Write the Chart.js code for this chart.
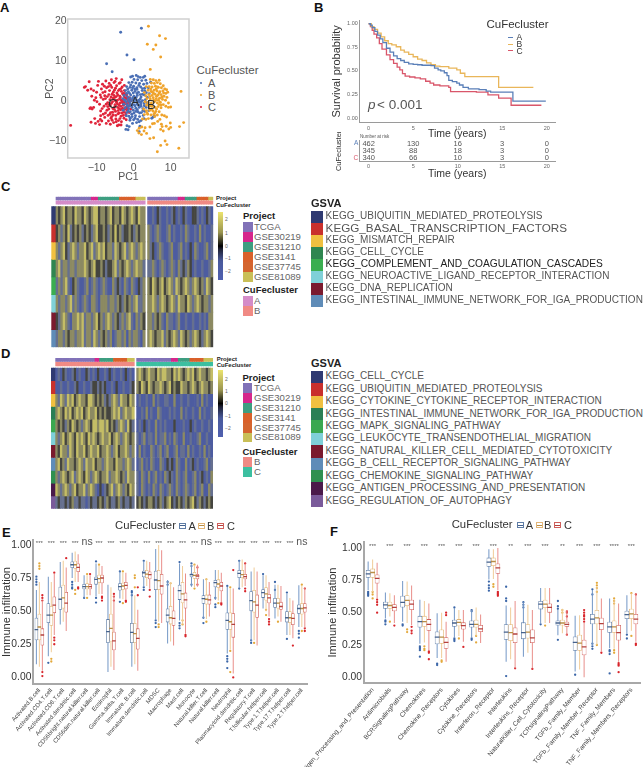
<!DOCTYPE html>
<html>
<head>
<meta charset="utf-8">
<title>CuFecluster figure</title>
<script src="https://cdn.jsdelivr.net/npm/chart.js"></script>
<style>
  html, body { margin: 0; padding: 0; background: #fff; }
  #page { position: relative; width: 644px; height: 767px; overflow: hidden; font-family: "Liberation Sans", Arial, sans-serif; }
  canvas { position: absolute; }
  .txt { position: absolute; white-space: pre; line-height: 1; }
  .sw { position: absolute; }
  .heat { filter: blur(0.45px); }
</style>
</head>
<body>
<div id="page"></div>
<script>
// ---------- panel A: PCA points
const pcaC = [[-17,-6.1],[-13,3.6],[-13.3,3.4],[-12,4.8],[-11.5,3],[-11.3,1.2],[-11.6,-1.7],[-11.8,-1.9],[-11.2,-2],[-10.8,-1.6],[-11.5,-5.3],[-10.5,-4.4],[-10.3,-5.6],[-9.6,-5.1],[-9.2,-5.9],[-9,-4.6],[-10.2,.8],[-10,2.2],[-9.7,3.9],[-9.5,4.9],[-9,1.5],[-9.2,-.8],[-8.9,-2.5],[-8.7,3],[-8.4,4.2],[-8.2,.4],[-8,-1.3],[-8.2,-3.3],[-7.8,-4.1],[-7.7,2.3],[-7.5,5],[-7.3,3.3],[-7.1,1.1],[-7,-.4],[-7.2,-2.3],[-6.9,-3.6],[-6.8,-5],[-6.6,4.4],[-6.5,2.6],[-6.4,.3],[-6.3,-1.2],[-6.2,-2.9],[-6.1,-4.3],[-6,5.3],[-5.9,3.4],[-5.8,1.7],[-5.7,-.2],[-5.6,-1.9],[-5.5,-3.5],[-5.4,-5.4],[-5.3,4.6],[-5.2,2.7],[-5.1,.9],[-5,-.9],[-4.9,-2.6],[-4.8,-4.5],[-4.7,5.6],[-4.6,3.8],[-4.5,2],[-4.4,.2],[-4.3,-1.6],[-4.2,-3.2],[-4.1,-4.9],[-4,-6],[-3.9,4.4],[-3.8,2.9],[-3.7,1.2],[-3.6,-.5],[-3.5,-2.2],[-3.4,-3.8],[-3.3,-5.2],[-3.2,5.3],[-3.1,3.5],[-3,1.8],[-2.9,.4],[-2.8,-1.1],[-2.7,-2.8],[-2.6,-4.3],[-2.5,2.6],[-2.4,.9],[-2.3,-.3],[-2.2,-1.8],[-2.1,-3.4],[-2,-4.7],[-1.9,1.5],[-1.8,-.8],[-1.7,-2.3],[-1.5,.3],[-1.4,-1.3],[-1.2,-2.9],[-7.6,.6],[-8.5,-1.9],[-6.7,-2],[-6.1,1],[-5.5,2.2],[-5.2,-2.1],[-4.7,1.1],[-4.4,-.7],[-4.2,-2.4],[-3.8,.5],[-3.5,-1.3],[-3.2,-3],[-3.3,2.4],[-2.9,-.5],[-2.6,1.3],[-2.4,-2.1],[-2.1,.5],[-1.9,-1.5],[-1.6,-.1],[-1.1,.8],[-1,-.9],[-.8,-2],[-.7,.1],[-4,-1],[-3.6,.9],[-3.1,-.2],[-2.8,.1],[-2.5,-.8],[-5,.1],[-4.6,-.3],[-3.9,-1.9],[-6,-.6],[-5.5,.7],[-7,-1.4],[-7.8,1.3],[-9.9,-.2],[-10.6,.2],[-8.6,-5],[-7.4,-5.6],[-6.3,-5.8],[-4.4,-6.2],[-3.4,-6],[-10.8,2.6],[-12.4,2.7],[-8.8,.9],[-8.3,2.1],[-7.4,-.8],[-7.6,-3],[-6.6,-.9],[-6.7,1.6],[-6.2,3.9],[-5.7,-2.8],[-5.9,-3.9],[-5.1,-1.4],[-5.3,1.4],[-4.9,3.2],[-4.8,-3.6],[-4.3,1.5],[-4.1,2.6],[-3.9,-3],[-3.7,-4.4],[-3.4,3.1],[-3.3,.2],[-3,-1.8],[-2.8,-3.6],[-2.7,1.9],[-2.2,-2.9],[-2.3,1.8],[-1.7,.9],[-1.6,-1.9],[-1.3,-.4],[-.9,.2],[-.6,-1.2],[-4.7,-5.2],[-5.8,-4.8],[-6.8,3.6],[-7.9,3.7],[-8.9,-3.7],[-6.4,-3.3],[-5,4.9],[-3.6,4.6],[-2.5,3.9]];
const pcaA = [[2.1,18.2],[-3.5,17.2],[-1.8,11.5],[.1,10.3],[-7.3,9.3],[-5.8,7.3],[-1.5,-7.2],[-2.1,-7.1],[-1.2,-6.4],[-1.8,-6.2],[1.5,-7.7],[1.7,-6.3],[5.3,-4],[4.9,-4.3],[5.6,-3.8],[-.8,6],[-.3,6.2],[.7,6.4],[1.2,6.1],[1.8,5.9],[2.6,5.9],[3,6.2],[.1,5.4],[1.1,5.3],[2.2,5.1],[3.3,5.2],[-1.3,4.6],[-.4,4.7],[.6,4.5],[1.6,4.4],[2.7,4.2],[3.6,4.4],[-1.9,3.6],[-1,3.4],[0,3.7],[.9,3.3],[1.9,3.5],[3,3.2],[-2.2,2.6],[-1.4,2.3],[-.5,2.7],[.4,2.4],[1.3,2.2],[2.3,2.6],[3.4,2.1],[-2.6,1.4],[-1.7,1.1],[-.8,1.5],[.1,1.2],[1,1.4],[2,1],[2.9,1.5],[3.7,.9],[-2.4,.2],[-1.5,.4],[-.6,.1],[.4,.4],[1.4,.2],[2.4,.1],[3.2,.3],[-2.7,-.8],[-1.8,-.9],[-.9,-.6],[0,-.9],[.9,-.7],[1.9,-.8],[2.8,-.6],[-2.3,-1.7],[-1.3,-1.9],[-.4,-1.6],[.6,-1.8],[1.5,-1.6],[2.5,-1.9],[3.4,-1.6],[-1.8,-2.9],[-.9,-2.7],[.1,-3],[1.1,-2.7],[2.1,-2.9],[3,-2.6],[-1.3,-3.8],[-.4,-3.9],[.5,-3.7],[1.6,-3.9],[2.6,-3.6],[-1,-4.8],[0,-4.7],[1.1,-4.6],[2,-4.9],[-.3,-5.6],[.8,-5.4],[1.5,-.2],[.2,-.2],[-1,.7],[-.2,.8],[.7,.9],[1.8,.5],[2.4,1.7],[.9,2.9],[-.3,3.3],[-1.1,-1.2],[-.1,-2.3],[1,-2.2],[2,-1.3],[-2,-.2],[3.6,-.4],[4.2,1.8],[4,3.3],[4.4,-1.2],[4.1,-2.4],[4.6,4.7],[-1.6,3],[-.8,4],[.3,3],[1.4,3.9],[2.4,3.1],[-1.9,1.9],[-1.1,1.9],[-.1,2],[.9,1.9],[1.8,1.6],[3,2.5],[-2.9,.6],[-1.2,-.1],[-.3,.5],[.9,.1],[2,-.3],[2.9,-1.2],[-1.6,-1.3],[-.6,-1.1],[.4,-1.2],[1.3,-1.1],[-2.8,-2.3],[-1.5,-2.5],[-.5,-3.3],[.6,-2.6],[1.6,-3],[2.5,-2.4],[-2,-3.7],[-.9,-4.3],[.4,-4.3],[1.5,-5.2],[2.8,-4.4]];
const pcaB = [[4,18.7],[7,16.3],[8.6,15.6],[3.7,14.2],[6,14],[5.3,12.9],[7.3,11],[4.5,7.9],[12.8,2.4],[13.5,-5.4],[12.4,-6.4],[12.2,-11.8],[9,-10.9],[7.3,-11.1],[8.5,-10],[6.4,-12.7],[4.4,-9.4],[5.4,-9.2],[1,-7.4],[1.4,-8],[2.1,-8.4],[2.8,-7.5],[3.5,-8.1],[1.5,-6.8],[2.2,-6.5],[3.1,-6.7],[4.4,-6.5],[5.1,-5.7],[5.6,-5.6],[7.5,-5.8],[7.7,-6.4],[7.3,-7.1],[8,-7.5],[8.8,-6.3],[9.5,-7],[9.9,-5.5],[10,-6.6],[7.6,-3.5],[8.3,-3.7],[8.9,-4],[4.5,5.4],[5.3,5.3],[6,5.1],[6.9,5.2],[4.8,4.5],[5.6,4.4],[6.4,4.6],[7.2,4.3],[8,3.8],[4.2,3.6],[5,3.5],[5.9,3.7],[6.7,3.4],[7.5,3.3],[8.4,3],[9.2,2.2],[3.9,2.7],[4.7,2.4],[5.5,2.7],[6.3,2.5],[7.1,2.3],[7.9,2.5],[8.7,1.9],[4.1,1.6],[5,1.4],[5.8,1.7],[6.6,1.5],[7.4,1.6],[8.2,1.2],[9,.9],[3.6,.6],[4.5,.5],[5.3,.8],[6.1,.6],[7,.7],[7.8,.4],[8.6,.2],[3.9,-.4],[4.8,-.5],[5.6,-.2],[6.4,-.5],[7.2,-.3],[8,-.9],[8.7,-1.3],[9.4,-1.6],[10,-1.5],[4.2,-1.4],[5,-1.3],[5.8,-1.6],[6.6,-1.4],[7.4,-1.7],[3.4,-2.4],[4.4,-2.3],[5.2,-2.5],[6,-2.6],[6.9,-2.7],[2.9,-3.4],[3.8,-3.3],[4.7,-3.5],[5.5,-3.3],[6.4,-3.5],[2.4,-4.5],[3.3,-4.6],[4,-4.4],[4.6,-.9],[5.4,.2],[6.2,1.2],[6.9,-.9],[5.1,2.2],[4.3,-1.1],[6.5,3.5],[7.7,1.1],[8.9,2.8],[9.4,-.5],[5.7,-3.9],[7.1,-4.6],[6.5,-5.1],[4.6,3],[5.4,1.9],[6.1,3],[6.9,2],[7.6,.9],[8.1,2],[3.3,1.3],[3.5,-1],[4.4,1.1],[5.9,.1],[6.7,.2],[7.4,-1],[4.9,-2],[5.7,-3],[3.6,-2.9],[6.2,-2],[2.7,-2],[3.1,-.2],[2.9,2.1],[3.4,3.6]];
const pcaTicksX = [-10, 0, 10];
const pcaTicksY = [-10, 0, 10, 20];

// ---------- panel B: survival curves and risk table
const survTimeA = [0,.2,.4,.7,1,1.3,1.6,2,2.4,2.8,3.2,3.6,4,4.5,5,5.5,6,7,7.4,7.8,8.1,8.5,8.8,9,9.4,9.9,10.2,10.6,11.2,12.4,13.2,13.7,16.2,19.9];
const survProbA = [1,.985,.96,.92,.88,.84,.8,.74,.7,.66,.63,.61,.59,.575,.57,.565,.56,.555,.53,.51,.5,.48,.45,.4,.385,.37,.35,.325,.31,.3,.285,.275,.18,.18];
const survTimeB = [0,.3,.6,1,1.4,1.8,2.2,2.6,3.1,3.6,4,4.5,5,5.5,6,6.5,7,7.5,8,9,9.9,10.3,10.8,14.6,18.5];
const survProbB = [1,.97,.94,.9,.86,.82,.79,.775,.756,.72,.7,.675,.65,.625,.61,.585,.565,.55,.545,.53,.51,.475,.44,.325,.325];
const survTimeC = [0,.2,.4,.6,.9,1.2,1.5,2,2.4,2.8,3.2,3.5,3.8,4.1,4.6,5.2,5.8,6.4,6.9,7.3,8,9,9.2,12.1,13.4,14.6,16,19.4];
const survProbC = [1,.97,.93,.89,.85,.79,.73,.67,.62,.58,.54,.51,.47,.445,.435,.425,.415,.39,.37,.35,.34,.325,.28,.275,.245,.21,.135,.135];
const survTicksX = [0, 5, 10, 15, 20];
const survTicksY = [0, .25, .5, .75, 1];
const riskLabels = ["A", "B", "C"];
const riskA = [462, 130, 16, 3, 0];
const riskB = [345, 88, 18, 3, 0];
const riskC = [340, 66, 10, 3, 0];

// ---------- panel C: heatmap rows (cLeft columns of cluster A, then cluster B)
const cLeft = 38;
const cProject = [15,3,9,7,4, 13,3,5,5,2];
const cGsva = ["KEGG_UBIQUITIN_MEDIATED_PROTEOLYSIS","KEGG_BASAL_TRANSCRIPTION_FACTORS","KEGG_MISMATCH_REPAIR","KEGG_CELL_CYCLE","KEGG_COMPLEMENT_ AND_COAGULATION_CASCADES","KEGG_NEUROACTIVE_LIGAND_RECEPTOR_INTERACTION","KEGG_DNA_REPLICATION","KEGG_INTESTINAL_IMMUNE_NETWORK_FOR_IGA_PRODUCTION"];
const cRows = [
  [1,0,1,2,0,1,1,0,2,1,1,0,2,1,0,1,2,2,0,1,1,0,1,2,0,1,1,0,2,1,0,1,2,1,0,2,1,1,-2,-2,-1,-2,0,-1,-2,-2,-1,-2,-1,0,-2,-1,-2,0,-1,-2,-2,0,0,-1,-2,-1,-2,0,-1,-2],
  [0,1,-1,1,0,2,-1,0,1,0,1,-1,0,1,0,-1,1,2,0,0,1,0,-1,1,0,2,0,1,-1,0,0,1,0,-1,1,0,1,1,1,-1,-2,-1,1,-1,-2,-2,-1,1,-2,-1,-2,-2,-1,-2,1,-1,-2,-2,-1,-2,1,-2,-1,-2,-2,-1],
  [1,-1,1,2,0,-1,1,2,1,-1,1,1,2,0,1,2,-1,1,2,1,2,0,1,1,-1,2,1,0,1,2,-1,1,2,1,-1,1,2,1,1,-1,0,-2,-1,1,-1,-2,-2,-1,1,-2,-2,-1,1,-2,-1,-2,0,-2,1,-1,-2,-2,-1,1,-2,-1],
  [1,2,-1,1,1,-1,1,1,-1,1,1,1,2,1,0,1,2,0,0,1,0,-1,0,0,1,2,-1,1,0,1,2,1,-1,1,2,1,1,-1,-1,-1,1,-1,-2,-1,1,-1,-2,-1,1,-1,-2,1,-1,0,-1,1,0,-2,-1,-2,-2,-1,-2,-2,-1,1],
  [-1,1,-1,1,2,-1,-2,0,1,-1,-2,-2,-1,1,-2,-1,1,-1,-2,-1,1,-1,-2,-2,1,-1,0,-1,-2,1,-1,-2,1,-1,-2,0,-1,1,1,0,2,1,0,1,2,0,1,2,1,-1,2,1,0,1,2,1,-1,1,2,1,0,1,-1,2,1,0],
  [1,-1,1,1,-1,1,2,-1,1,-1,-2,-1,1,-1,-2,1,1,-1,-2,1,1,1,-1,1,1,-1,1,0,-1,1,0,1,-1,1,2,-1,-1,1,1,1,2,1,-1,1,2,1,0,1,2,1,-1,2,1,1,0,2,1,-1,1,2,1,0,1,1,-1,1],
  [0,-1,1,2,1,-1,-2,1,1,2,1,2,-1,1,1,-1,1,2,0,1,-1,1,2,1,-1,1,0,-1,1,-1,1,2,-1,-2,1,-1,1,0,1,1,-1,1,0,1,-1,-2,1,-1,-1,-2,-1,1,-2,-2,-1,-2,-2,-1,-2,-2,-1,-2,-1,-2,1,1],
  [-1,1,1,-1,1,0,1,1,-1,1,1,2,-1,1,1,-1,2,1,-1,1,0,1,-1,1,-2,-1,1,1,-1,1,-2,1,-1,1,1,-1,-2,1,1,2,1,0,1,1,2,-1,1,0,1,2,1,-1,2,1,0,1,-1,1,2,1,0,-1,1,2,1,0]
];

// ---------- panel D: heatmap rows (dLeft columns of cluster B, then cluster C)
const dLeft = 34;
const dProject = [17,2,6,6,3, 15,3,5,6,4];
const dGsva = ["KEGG_CELL_CYCLE","KEGG_UBIQUITIN_MEDIATED_PROTEOLYSIS","KEGG_CYTOKINE_CYTOKINE_RECEPTOR_INTERACTION","KEGG_INTESTINAL_IMMUNE_NETWORK_FOR_IGA_PRODUCTION","KEGG_MAPK_SIGNALING_PATHWAY","KEGG_LEUKOCYTE_TRANSENDOTHELIAL_MIGRATION","KEGG_NATURAL_KILLER_CELL_MEDIATED_CYTOTOXICITY","KEGG_B_CELL_RECEPTOR_SIGNALING_PATHWAY","KEGG_CHEMOKINE_SIGNALING_PATHWAY","KEGG_ANTIGEN_PROCESSING_AND_PRESENTATION","KEGG_REGULATION_OF_AUTOPHAGY"];
const dRows = [
  [-2,-1,-2,0,-1,-2,-2,-1,0,-2,-1,-2,-2,0,-1,-2,-1,-2,0,-2,-2,-1,-2,0,-2,-1,-2,-2,-1,-2,0,-2,-1,-2,1,2,1,0,1,2,1,1,0,2,1,2,2,1,1,0,2,1,2,1,0,1,2,1,2,0,1,2,1,1,0,1,2],
  [-2,-2,-1,-2,-2,-1,-2,-2,-1,0,-2,-2,-1,-2,-2,-1,0,0,-1,0,-1,0,-2,-2,-1,-2,0,-2,-2,-1,-2,-2,-1,0,1,0,2,1,0,2,1,0,1,1,2,1,0,1,2,0,1,0,0,2,1,1,0,1,2,1,0,1,2,1,1,0,1],
  [1,-1,2,1,-1,2,1,2,0,1,2,1,1,0,2,2,1,0,1,0,1,-1,0,-1,1,2,1,-1,2,1,1,0,2,1,-2,-1,-2,-2,-1,-2,-2,1,-2,-1,-2,-2,-1,-1,-2,-2,1,-2,-2,-1,-2,-2,-1,-2,-2,-2,-1,-2,1,-2,-1,-2,-2],
  [1,2,1,0,2,1,2,0,1,2,1,2,0,1,2,1,1,2,0,1,0,1,0,0,1,2,1,2,-1,1,2,1,1,2,-2,-2,-1,-2,1,-2,-1,-2,-2,1,-1,-2,-2,-2,-1,-2,-1,-2,-2,1,-2,-1,-2,-2,-1,-2,-2,1,-2,-1,-2,-2,-1],
  [1,0,1,0,-1,1,0,2,1,0,1,-1,1,2,1,0,2,2,1,2,2,1,2,0,1,0,-1,1,2,1,-1,2,0,-1,-2,-1,-2,0,-2,-1,-2,-2,1,-2,-1,-2,-1,-2,-2,-2,0,-2,-2,-2,-1,-2,-2,0,-2,-1,-2,-2,-1,-2,-2,-1,-2],
  [1,-1,1,2,0,1,2,1,0,2,1,2,1,0,2,1,2,1,0,1,2,1,1,2,0,1,2,1,-1,1,2,1,0,1,-1,-2,-1,1,-2,-1,-1,-2,1,-2,-1,-1,1,-2,-1,-2,1,-1,-2,-2,1,-2,-2,-1,-2,-2,-1,1,-2,-2,-1,-2,-2],
  [1,0,2,1,1,-1,2,1,0,2,1,1,2,0,1,2,1,1,2,0,1,1,2,1,-1,1,2,0,1,1,2,1,-1,1,-2,1,-2,-1,-2,-2,1,-1,-2,-1,1,-2,-1,1,-2,-2,-1,1,-2,-1,-1,-2,1,-2,-1,-2,-2,-1,-2,1,-2,-1,-2],
  [1,2,0,1,-1,2,1,1,0,1,2,1,-1,2,1,1,2,0,1,1,-1,1,2,1,1,0,2,1,1,-1,1,2,1,-1,-2,-1,1,-2,-1,-2,1,-1,-2,-2,1,-1,-2,0,-1,0,-2,1,-1,-2,-2,1,-2,-1,0,-2,-1,-2,-2,-1,1,-2,-1],
  [1,-1,1,2,1,0,1,2,-1,1,2,1,0,2,1,-1,1,2,1,0,1,1,2,-1,1,1,2,1,0,1,-1,2,1,1,-1,-2,1,-1,-2,1,-2,-1,1,-2,-1,-2,1,-1,0,-1,-2,1,-1,-2,-1,1,-2,-2,-1,1,-2,-1,0,-2,-1,-2,1],
  [2,1,-1,1,2,1,-1,1,2,0,1,1,2,-1,1,2,1,-1,-2,0,-2,-1,0,1,2,-1,1,2,1,-1,1,0,2,1,-1,-2,1,-1,-2,-1,-2,1,-1,-2,1,-1,-2,-1,1,-1,-2,1,-1,-2,-1,1,-1,-2,-1,1,-2,-1,1,-2,-2,1,-1],
  [-1,0,-1,-1,0,-1,0,1,-1,-1,0,-1,-1,-2,-1,0,-1,-1,0,1,0,-1,1,0,-1,-1,0,1,-1,0,-1,-1,0,-1,0,1,0,-1,0,1,1,0,-1,0,1,-1,0,1,2,0,-1,0,1,0,-1,1,0,1,2,0,-1,1,0,-1,0,1,0]
];
const projectNames = ["TCGA", "GSE30219", "GSE31210", "GSE3141", "GSE37745", "GSE81089"];
const colorbarTicks = [2, 1, 0, -1, -2];

// ---------- panel E: [low whisker, q1, median, q3, high whisker] per cell type
const eCategories = ["Activated.B.cell","Activated.CD4.T.cell","Activated.CD8.T.cell","Activated.dendritic.cell","CD56bright.natural.killer.cell","CD56dim.natural.killer.cell","Eosinophil","Gamma.delta.T.cell","Immature..B.cell","Immature.dendritic.cell","MDSC","Macrophage","Mast.cell","Monocyte","Natural.killer.T.cell","Natural.killer.cell","Neutrophil","Plasmacytoid.dendritic.cell","Regulatory.T.cell","T.follicular.helper.cell","Type.1.T.helper.cell","Type.17.T.helper.cell","Type.2.T.helper.cell"];
const eStatsA = [[.1,.28,.36,.45,.66],[.16,.41,.47,.56,.76],[.4,.51,.59,.685,.87],[.75,.825,.85,.875,.94],[.6,.665,.685,.705,.77],[.61,.7,.74,.76,.86],[.04,.26,.345,.44,.7],[.595,.655,.685,.71,.8],[.08,.26,.34,.41,.635],[.685,.755,.79,.805,.88],[.44,.66,.735,.805,.97],[.255,.415,.47,.52,.735],[.43,.585,.655,.7,.86],[.685,.755,.775,.785,.85],[.445,.555,.595,.62,.74],[.585,.68,.715,.735,.81],[.18,.36,.43,.49,.685],[.67,.75,.785,.81,.885],[.27,.5,.58,.65,.8],[.52,.6,.64,.665,.77],[.445,.525,.56,.6,.7],[.32,.415,.45,.5,.63],[.38,.48,.52,.55,.695]];
const eStatsB = [[.08,.28,.38,.48,.72],[.19,.39,.47,.54,.72],[.42,.52,.6,.7,.88],[.72,.82,.85,.88,.95],[.62,.665,.685,.71,.77],[.63,.715,.745,.775,.85],[.08,.27,.37,.48,.68],[.59,.66,.69,.715,.79],[.1,.26,.33,.41,.62],[.69,.75,.78,.81,.88],[.42,.66,.73,.81,1],[.27,.4,.45,.54,.72],[.4,.56,.63,.72,.84],[.68,.745,.77,.795,.85],[.44,.55,.59,.625,.74],[.58,.675,.705,.74,.81],[.21,.36,.42,.49,.67],[.68,.75,.775,.81,.89],[.28,.49,.57,.66,.83],[.5,.58,.63,.68,.77],[.46,.52,.56,.6,.7],[.32,.41,.45,.5,.6],[.38,.475,.52,.56,.69]];
const eStatsC = [[.05,.24,.32,.37,.58],[.32,.485,.545,.61,.78],[.35,.49,.56,.645,.83],[.72,.795,.83,.86,.93],[.62,.665,.685,.705,.77],[.63,.71,.75,.775,.84],[.055,.205,.275,.345,.62],[.59,.665,.695,.72,.79],[.05,.21,.295,.37,.51],[.67,.74,.775,.8,.87],[.41,.625,.69,.78,.96],[.24,.39,.445,.505,.68],[.33,.52,.585,.64,.785],[.685,.74,.765,.78,.85],[.46,.55,.585,.625,.72],[.565,.65,.69,.72,.79],[.03,.3,.4,.485,.67],[.69,.74,.76,.78,.86],[.24,.45,.545,.625,.8],[.46,.56,.6,.63,.72],[.42,.51,.535,.57,.69],[.295,.395,.445,.485,.58],[.37,.49,.525,.56,.68]];
const eOutA = [[0,.7],[0,.72],[0,.74],[0,.76],[1,.11],[3,.67],[3,.68],[3,.7],[3,.72],[4,.6],[5,.565],[5,.6],[5,.875],[7,.57],[7,.8],[8,.62],[8,.64],[8,.65],[9,.66],[9,.68],[9,.88],[10,.38],[10,.41],[10,.43],[11,.7],[11,.72],[12,.37],[12,.39],[12,.41],[12,.87],[13,.7],[13,.84],[13,.86],[14,.41],[14,.45],[15,.53],[15,.55],[15,.6],[16,.07],[16,.12],[16,.14],[16,.16],[16,.69],[17,.67],[17,.88],[18,.26],[18,.28],[19,.78],[20,.72],[20,.66],[21,.29],[21,.64],[22,.3],[22,.33],[22,.35]];
const eOutB = [[0,.82],[0,.84],[0,.86],[1,.12],[1,.14],[3,.63],[3,.66],[4,.6],[4,.78],[5,.85],[7,.56],[7,.8],[8,.68],[8,.75],[8,.77],[10,.38],[10,.4],[11,.71],[12,.4],[12,.43],[13,.67],[13,.85],[14,.42],[14,.74],[15,.56],[16,.04],[16,.2],[16,.68],[18,.26],[19,.47],[19,.51],[20,.42],[22,.35],[22,.7]];
const eOutC = [[0,.01],[0,.04],[0,.58],[0,.6],[0,.62],[1,.25],[1,.28],[1,.3],[1,.79],[2,.9],[3,.67],[3,.68],[4,.78],[5,.58],[5,.6],[5,.61],[6,.58],[6,.61],[6,.63],[7,.57],[7,.58],[8,.62],[8,.68],[9,.61],[9,.66],[12,.31],[12,.32],[13,.7],[13,.83],[15,.55],[15,.56],[16,0],[16,.81],[17,.65],[17,.67],[17,.86],[19,.4],[19,.42],[19,.44],[21,.24],[22,.35],[22,.37],[22,.67]];
const eSignif = ["***","***","***","***","ns","***","***","***","***","***","***","***","***","***","ns","***","***","***","***","***","***","***","ns"];

// ---------- panel F: same layout, immune functions
const fCategories = ["Antigen_Processing_and_Presentation","Antimicrobials","BCRSignalingPathway","Chemokines","Chemokine_Receptors","Cytokines","Cytokine_Receptors","Interferon_Receptor","Interleukins","Interleukins_Receptor","NaturalKiller_Cell_Cytotoxicity","TCRsignalingPathway","TGFb_Family_Member","TGFb_Family_Member_Receptor","TNF_Family_Members","TNF_Family_Members_Receptors"];
const fStatsA = [[.675,.77,.8,.83,.895],[.455,.53,.56,.585,.655],[.43,.54,.58,.63,.745],[.26,.385,.43,.475,.6],[.15,.255,.31,.355,.495],[.31,.39,.42,.445,.535],[.31,.385,.41,.44,.52],[.755,.855,.89,.925,.99],[.12,.29,.35,.41,.555],[.16,.295,.345,.425,.58],[.42,.525,.565,.59,.69],[.325,.4,.42,.44,.52],[.045,.205,.27,.315,.475],[.25,.41,.45,.49,.675],[.225,.345,.39,.43,.61],[.34,.45,.485,.515,.635]];
const fStatsB = [[.66,.77,.81,.84,.91],[.47,.53,.555,.585,.65],[.42,.55,.595,.635,.74],[.27,.39,.43,.475,.59],[.15,.26,.31,.37,.5],[.32,.395,.425,.45,.52],[.32,.385,.41,.445,.54],[.76,.86,.895,.925,.99],[.14,.28,.345,.41,.54],[.19,.3,.35,.41,.56],[.42,.535,.565,.6,.69],[.34,.4,.42,.445,.53],[.06,.205,.265,.33,.48],[.25,.41,.46,.52,.7],[.22,.345,.39,.44,.6],[.36,.45,.49,.53,.65]];
const fStatsC = [[.61,.725,.765,.795,.885],[.42,.51,.54,.565,.635],[.405,.52,.565,.6,.71],[.21,.36,.41,.45,.57],[.12,.22,.27,.31,.43],[.275,.37,.4,.425,.52],[.265,.35,.375,.405,.485],[.675,.8,.845,.88,1],[.07,.265,.335,.385,.59],[.07,.265,.305,.37,.52],[.42,.5,.54,.57,.69],[.32,.39,.41,.43,.52],[0,.17,.235,.29,.42],[.2,.365,.415,.46,.61],[.12,.285,.345,.405,.57],[.275,.41,.45,.49,.645]];
const fOutA = [[0,.63],[0,.64],[0,.65],[0,.66],[1,.41],[1,.43],[1,.44],[2,.4],[2,.41],[3,.16],[3,.21],[3,.22],[3,.23],[3,.24],[4,.095],[4,.105],[5,.28],[5,.29],[5,.3],[5,.54],[6,.29],[6,.3],[6,.51],[6,.52],[7,.67],[7,.69],[7,.71],[7,.74],[8,.01],[8,.59],[8,.61],[8,.7],[9,.54],[9,.56],[9,.58],[10,.41],[11,.29],[11,.53],[11,.55],[11,.59],[12,.02],[13,.22],[13,.24],[13,.26],[13,.64],[13,.68],[14,.03],[14,.18],[14,.2],[14,.21],[15,.3],[15,.33]];
const fOutB = [[0,.61],[0,.64],[0,.66],[1,.43],[2,.35],[2,.37],[3,.21],[3,.22],[3,.24],[4,.12],[4,.13],[5,.3],[6,.27],[6,.32],[7,.7],[7,.72],[10,.4],[11,.5],[11,.52],[13,.25],[13,.66],[13,.69],[13,.71],[13,.73],[14,.19],[14,.21],[14,.57],[14,.59],[14,.61],[15,.32],[15,.65]];
const fOutC = [[0,.5],[0,.56],[0,.58],[0,.6],[1,.4],[2,.34],[2,.36],[2,.39],[3,.14],[3,.19],[3,.2],[4,.48],[4,.5],[5,.235],[7,.63],[7,.64],[7,.65],[7,.66],[8,.07],[9,.065],[11,.33],[11,.47],[11,.5],[11,.51],[12,.43],[12,.45],[12,.47],[12,.48],[12,.5],[12,.52],[13,.19],[14,.04],[14,.09],[14,.1],[14,.11],[15,.25],[15,.26],[15,.64]];
const fSignif = ["***","***","***","***","***","***","***","***","**","***","***","**","***","***","****","***"];
const boxTicks = [0, .25, .5, .75, 1];

// ---------- colours
const clusterFill = { A: "#4a6fb5", B: "#efa32b", C: "#e0243a" };
const curveColor = { A: "#5a7fb8", B: "#e9b65a", C: "#d9566a" };
const boxEdge = { A: "#5f7da6", B: "#e3b678", C: "#cf605c" };
const whiskerColor = { A: "#7397c6", B: "#f0cc98", C: "#e98e8a" };
const medianColor = { A: "#44618c", B: "#b98d45", C: "#b5403c" };
const outlierColor = { A: "#3b66a8", B: "#e3a93c", C: "#d8252b" };
const projectColors = ["#8172b8", "#d6268c", "#3d9e80", "#d9602a", "#d4652f", "#c9bf57"];
const segmentColor = [0, 1, 2, 3, 5];
const annoColors = { A: "#d48cc8", B: "#f08a84", C: "#3cbfa0" };
const cStrip = ["#2f3a72","#c9302c","#f0c040","#2f8650","#3aae50","#7fd0d8","#7a1a2e","#5f8cb8"];
const dStrip = ["#2f3a72","#c9302c","#f0c040","#2a7f55","#3aa850","#7fd0d8","#7a1a2e","#5f8cb8","#2f9050","#4a1a4a","#7a5a9a"];
const heatStops = { "-2": "#4d5ca0", "-1": "#66708f", "0": "#45453f", "1": "#8c8a62", "2": "#c4bd66" };

// ---------- helpers
Chart.defaults.font.family = '"Liberation Sans", Arial, sans-serif';
Chart.defaults.animation = false;
Chart.defaults.responsive = false;
Chart.defaults.plugins.legend.display = false;
Chart.defaults.plugins.tooltip.enabled = false;

const page = document.getElementById("page");

function addText(str, x, y, opts = {}) {
  const el = document.createElement("div");
  el.className = "txt";
  el.textContent = str;
  el.style.left = x + "px";
  el.style.top = y + "px";
  el.style.fontSize = (opts.size || 9) + "px";
  el.style.color = opts.color || "#555";
  if (opts.weight) el.style.fontWeight = opts.weight;
  if (opts.italic) el.style.fontStyle = "italic";
  el.style.transform = "translate(0, -50%)";
  page.appendChild(el);
  return el;
}

function addBox(x, y, w, h, color, border) {
  const el = document.createElement("div");
  el.className = "sw";
  el.style.cssText = `left:${x}px;top:${y}px;width:${w}px;height:${h}px;background:${color};` + (border ? `border:1px solid ${border};box-sizing:border-box;` : "");
  page.appendChild(el);
  return el;
}

function makeCanvas(left, top, right, bottom) {
  const cv = document.createElement("canvas");
  cv.width = right - left;
  cv.height = bottom - top;
  cv.style.left = left + "px";
  cv.style.top = top + "px";
  page.appendChild(cv);
  return cv;
}

const fitY = (w) => (s) => { s.width = w; s.paddingTop = 0; s.paddingBottom = 0; };
const fitX = (h) => (s) => { s.height = h; s.paddingLeft = 0; s.paddingRight = 0; };
const setTicks = (vals) => (s) => { s.ticks = vals.map((v) => ({ value: v })); };
const minusSign = (v) => String(v).replace("-", "\u2212");

// ---------- panel A
function drawPca() {
  const l = 67.7, t = 19, r = 189, b = 158;
  const cv = makeCanvas(36, 5, 196, 183);
  const frameAndNames = {
    id: "frameAndNames",
    afterDatasetsDraw(chart) {
      const { ctx, chartArea: a, scales } = chart;
      ctx.save();
      ctx.strokeStyle = "#cfcfcf";
      ctx.lineWidth = 1.5;
      ctx.strokeRect(a.left, a.top, a.width, a.height);
      ctx.fillStyle = "#2b2b2b";
      ctx.font = '13px "Liberation Sans"';
      ctx.textAlign = "center";
      ctx.textBaseline = "middle";
      ctx.fillText("C", scales.x.getPixelForValue(-5.6), scales.y.getPixelForValue(-.8));
      ctx.fillText("A", scales.x.getPixelForValue(.4), scales.y.getPixelForValue(-.4));
      ctx.fillText("B", scales.x.getPixelForValue(4.8), scales.y.getPixelForValue(-1.2));
      ctx.restore();
    }
  };
  const series = (pts, key) => ({
    data: pts.map((p) => ({ x: p[0], y: p[1] })),
    backgroundColor: clusterFill[key], pointRadius: 1.45, borderWidth: 0
  });
  new Chart(cv, {
    type: "scatter",
    data: { datasets: [series(pcaB, "B"), series(pcaA, "A"), series(pcaC, "C")] },
    options: {
      layout: { padding: { top: t - 5, right: 196 - r } },
      scales: {
        x: {
          min: -17.8, max: 14.95, grid: { display: false, drawTicks: false }, border: { display: false },
          afterBuildTicks: setTicks(pcaTicksX), afterFit: fitX(183 - b),
          ticks: { font: { size: 10.5 }, color: "#555", padding: 4, callback: minusSign, autoSkip: false, maxRotation: 0 },
          title: { display: true, text: "PC1", font: { size: 10.5 }, color: "#555", padding: { top: 0, bottom: 0 } }
        },
        y: {
          min: -14.25, max: 20.5, grid: { display: false, drawTicks: false }, border: { display: false },
          afterBuildTicks: setTicks(pcaTicksY), afterFit: fitY(l - 36),
          ticks: { font: { size: 10.5 }, color: "#555", padding: 1, callback: minusSign },
          title: { display: true, text: "PC2", font: { size: 10.5 }, color: "#555", padding: { top: 8, bottom: 0 } }
        }
      }
    },
    plugins: [frameAndNames]
  });
  addText("CuFecluster", 196.5, 70.7, { size: 11.5 });
  ["A", "B", "C"].forEach((k, i) => {
    const y = 83.3 + i * 12;
    const dot = addBox(200, y - 1.2, 2.4, 2.4, clusterFill[k]);
    dot.style.borderRadius = "50%";
    addText(k, 208, y, { size: 11 });
  });
}

// ---------- panel B
function drawSurvival() {
  const l = 359.3, t = 20, r = 555, b = 122.7;
  const cv = makeCanvas(330, 10, 560, 140);
  const curve = (ts, ps, key) => ({
    data: ts.map((x, i) => ({ x: x, y: ps[i] })),
    borderColor: curveColor[key], borderWidth: 1.3, pointRadius: 0, stepped: true, showLine: true, fill: false
  });
  new Chart(cv, {
    type: "scatter",
    data: { datasets: [curve(survTimeA, survProbA, "A"), curve(survTimeB, survProbB, "B"), curve(survTimeC, survProbC, "C")] },
    options: {
      layout: { padding: { top: t - 10, right: 560 - r } },
      scales: {
        x: {
          min: -1.05, max: 20.93, grid: { display: false, drawTicks: false }, border: { color: "#9a9a9a", width: 1 },
          afterBuildTicks: setTicks(survTicksX), afterFit: fitX(140 - b),
          ticks: { font: { size: 5.5 }, color: "#666", padding: 2, autoSkip: false, maxRotation: 0 },
          title: { display: true, text: "Time (years)", font: { size: 10.5 }, color: "#333", padding: { top: 1, bottom: 0 } }
        },
        y: {
          min: -.05, max: 1.04, grid: { display: false, drawTicks: false }, border: { color: "#9a9a9a", width: 1 },
          afterBuildTicks: setTicks(survTicksY), afterFit: fitY(l - 330),
          ticks: { font: { size: 5.5 }, color: "#666", padding: 1.5, callback: (v) => v.toFixed(2) },
          title: { display: true, text: "Survival probability", font: { size: 11 }, color: "#333", padding: { top: 0, bottom: 0 } }
        }
      }
    }
  });
  addText("CuFecluster", 486.5, 25, { size: 11.5, color: "#333" });
  ["A", "B", "C"].forEach((k, i) => {
    const y = 37.3 + i * 6.7;
    addBox(508, y - .5, 5, 1, curveColor[k]);
    addText(k, 516.5, y, { size: 8.5, color: "#333" });
  });
  addText("p", 368, 105, { size: 13.5, italic: true });
  addText("< 0.001", 377, 105, { size: 13.5 });
}

function drawRisk() {
  const l = 359.3, t = 140, r = 555, b = 161.7;
  const cv = makeCanvas(330, 132, 560, 180);
  const riskRows = { A: riskA, B: riskB, C: riskC };
  const riskNumbers = {
    id: "riskNumbers",
    afterDatasetsDraw(chart) {
      const { ctx, scales } = chart;
      ctx.save();
      ctx.fillStyle = "#555";
      ctx.font = '7.5px "Liberation Sans"';
      ctx.textAlign = "center";
      ctx.textBaseline = "middle";
      riskLabels.forEach((k) => {
        riskRows[k].forEach((n, i) => {
          ctx.fillText(String(n), scales.x.getPixelForValue(survTicksX[i]), scales.y.getPixelForValue(k));
        });
      });
      ctx.textAlign = "left";
      ctx.font = '4.5px "Liberation Sans"';
      ctx.fillText("Number at risk", 30, 5);
      ctx.restore();
    }
  };
  new Chart(cv, {
    type: "scatter",
    data: {
      datasets: riskLabels.map((k) => ({ data: riskRows[k].map((n, i) => ({ x: survTicksX[i], y: k })), pointRadius: 0 }))
    },
    options: {
      layout: { padding: { top: t - 132, right: 560 - r } },
      scales: {
        x: {
          type: "linear", min: -1.05, max: 20.93, grid: { display: false, drawTicks: false }, border: { color: "#9a9a9a", width: 1 },
          afterBuildTicks: setTicks(survTicksX), afterFit: fitX(180 - b),
          ticks: { font: { size: 5.5 }, color: "#666", padding: 1, autoSkip: false, maxRotation: 0 },
          title: { display: true, text: "Time (years)", font: { size: 10.5 }, color: "#333", padding: { top: 1, bottom: 0 } }
        },
        y: {
          type: "category", labels: riskLabels, offset: true, grid: { display: false, drawTicks: false }, border: { color: "#9a9a9a", width: 1 },
          afterFit: fitY(l - 330),
          ticks: { font: { size: 6.5 }, padding: 1, color: (c) => curveColor[riskLabels[c.index]] },
          title: { display: true, text: "CuFecluster", font: { size: 7.5 }, color: "#333", padding: { top: 4, bottom: 0 } }
        }
      }
    },
    plugins: [riskNumbers]
  });
}

// ---------- panels C and D
function drawHeat(cfg) {
  const { rows, leftCols, project, strip, clusters, box, anno } = cfg;
  const totalCols = rows[0].length + 3;
  const colIndex = (i) => (i < leftCols ? i + 2 : i + 3);
  const labels = [];
  for (let i = 0; i < totalCols; i++) labels.push(i);
  const projectOfCol = [];
  project.forEach((n, s) => {
    for (let i = 0; i < n; i++) projectOfCol.push(projectColors[segmentColor[s % 5]]);
  });
  const bars = { stack: "heat", categoryPercentage: 1, barPercentage: 1 };
  const datasets = [];
  rows.forEach((row, r) => {
    const data = labels.map(() => null);
    const colors = labels.map(() => "transparent");
    data[0] = [r, r + 1]; data[1] = [r, r + 1];
    colors[0] = strip[r]; colors[1] = strip[r];
    row.forEach((v, i) => {
      const c = colIndex(i);
      data[c] = [r, r + 1];
      colors[c] = heatStops[String(v)];
    });
    datasets.push(Object.assign({ data, backgroundColor: colors }, bars));
  });
  const projectData = labels.map(() => null), projectFill = labels.map(() => "transparent");
  const clusterData = labels.map(() => null), clusterFillCols = labels.map(() => "transparent");
  rows[0].forEach((v, i) => {
    const c = colIndex(i);
    projectData[c] = anno.project;
    projectFill[c] = projectOfCol[i];
    clusterData[c] = anno.cluster;
    clusterFillCols[c] = annoColors[i < leftCols ? clusters[0] : clusters[1]];
  });
  datasets.push(Object.assign({ data: projectData, backgroundColor: projectFill }, bars));
  datasets.push(Object.assign({ data: clusterData, backgroundColor: clusterFillCols }, bars));

  const cx = Math.floor(box.l), cy = Math.floor(box.t), cr = Math.ceil(box.r), cb = Math.ceil(box.b);
  const cv = makeCanvas(cx, cy, cr, cb);
  cv.className = "heat";
  new Chart(cv, {
    type: "bar",
    data: { labels, datasets },
    options: {
      layout: { padding: { left: box.l - cx, top: box.t - cy, right: cr - box.r, bottom: cb - box.b } },
      scales: {
        x: { display: false },
        y: { display: false, stacked: false, reverse: true, min: anno.project[0], max: rows.length }
      }
    }
  });
}

function drawHeatLegend(cfg) {
  const { projectTop, projectX, swatchH, titleY, clusterTitleY, clusterTop, clusters, barTop, barBottom, barTicks, nameX, nameY1, nameY2, gsvaX, gsvaTitleY, gsvaTop, gsvaH, gsvaTextY, names, strip, sizes } = cfg;
  addText("Project", nameX, nameY1, { size: 6, weight: "bold", color: "#222" });
  addText("CuFecluster", nameX, nameY2, { size: 6, weight: "bold", color: "#222" });
  const bar = addBox(218, barTop, 4.6, barBottom - barTop, "#000");
  bar.style.background = "linear-gradient(to bottom,#ece46e 0%,#9a9550 30%,#1a1a14 47%,#000 50%,#1f2236 55%,#4a5a9c 72%,#5060b0 100%)";
  colorbarTicks.forEach((v, i) => addText(minusSign(v), 225, barTicks[i], { size: 5, color: "#666" }));
  addText("Project", projectX, titleY, { size: 9.5, weight: "bold", color: "#222" });
  projectNames.forEach((n, i) => {
    addBox(projectX, projectTop + i * swatchH, 9.6, swatchH, projectColors[i]);
    addText(n, 254, projectTop + (i + .5) * swatchH, { size: 9.6, color: "#666" });
  });
  addText("CuFecluster", projectX, clusterTitleY, { size: 9.5, weight: "bold", color: "#222" });
  clusters.forEach((k, i) => {
    addBox(projectX, clusterTop + i * 10, 9.6, 10, annoColors[k]);
    addText(k, 254, clusterTop + (i + .5) * 10, { size: 9.6, color: "#666" });
  });
  addText("GSVA", gsvaX, gsvaTitleY, { size: 11, weight: "bold", color: "#222" });
  names.forEach((n, i) => {
    addBox(gsvaX, gsvaTop + i * gsvaH, 12.3, gsvaH, strip[i]);
    const size = sizes && sizes[i] ? sizes[i].size : 10;
    const color = sizes && sizes[i] ? sizes[i].color : "#555";
    addText(n, 325.6, gsvaTextY + i * gsvaH, { size, color });
  });
}

// ---------- panels E and F
function boxSeries(stats, outliers, key, slot, boxRatio) {
  const group = { A: 0, B: 1, C: 2 }[key];
  const dx = (group - 1) * slot;
  const common = { stack: key, categoryPercentage: slot * 3, barPercentage: boxRatio };
  return [
    Object.assign({ data: stats.map((s) => [s[2] - .005, s[2] + .005]), backgroundColor: medianColor[key], order: 0 }, common),
    Object.assign({ data: stats.map((s) => [s[1], s[3]]), backgroundColor: "#fff", borderColor: boxEdge[key], borderWidth: .8, borderSkipped: false, order: 1 }, common),
    Object.assign({ data: stats.map((s) => [s[0], s[4]]), backgroundColor: whiskerColor[key], maxBarThickness: 1, order: 2 }, common),
    // parsing off: the category axis then takes the fractional position as it is
    { type: "scatter", parsing: false, xAxisID: "x", yAxisID: "y", data: outliers.map((o) => ({ x: o[0] + dx, y: o[1] })), backgroundColor: outlierColor[key], pointRadius: 1.15, borderWidth: 0, order: 3 }
  ];
}

function drawBoxes(cfg) {
  const { categories, stats, outliers, signif, signifY, canvas, plot, yMin, yMax, slot, boxRatio, titlePad, labelSize } = cfg;
  const cv = makeCanvas(canvas.l, canvas.t, canvas.r, canvas.b);
  const signifLabels = {
    id: "signifLabels",
    afterDatasetsDraw(chart) {
      const { ctx, scales } = chart;
      ctx.save();
      ctx.textAlign = "center";
      ctx.textBaseline = "middle";
      signif.forEach((s, i) => {
        ctx.fillStyle = "#555";
        ctx.font = (s === "ns" ? "10.5" : "6") + 'px "Liberation Sans"';
        ctx.fillText(s, scales.x.getPixelForValue(i), scales.y.getPixelForValue(signifY) + (s === "ns" ? 0 : 1));
      });
      ctx.restore();
    }
  };
  let datasets = [];
  ["A", "B", "C"].forEach((k, i) => {
    datasets = datasets.concat(boxSeries(stats[i], outliers[i], k, slot, boxRatio));
  });
  new Chart(cv, {
    type: "bar",
    data: { labels: categories, datasets },
    options: {
      layout: { padding: { top: plot.t - canvas.t, right: canvas.r - plot.r } },
      scales: {
        x: {
          grid: { display: false, drawTicks: true, tickLength: 2, tickColor: "#888" }, border: { color: "#a8a8a8", width: 2 },
          afterFit: fitX(canvas.b - plot.b),
          ticks: { font: { size: labelSize }, color: "#444", padding: 1, autoSkip: false, minRotation: 50, maxRotation: 50 }
        },
        y: {
          stacked: false, min: yMin, max: yMax, grid: { display: false, drawTicks: false }, border: { color: "#a8a8a8", width: 2 },
          afterBuildTicks: setTicks(boxTicks), afterFit: fitY(plot.l - canvas.l),
          ticks: { font: { size: 10.3 }, color: "#333", padding: 2, callback: (v) => v.toFixed(2) },
          title: { display: true, text: "Immune infiltration", font: { size: 11 }, color: "#333", padding: { top: titlePad, bottom: 0 } }
        }
      }
    },
    plugins: [signifLabels]
  });
}

function drawBoxLegend(x, y, keys, texts) {
  addText("CuFecluster", x, y, { size: 11.3, color: "#333" });
  ["A", "B", "C"].forEach((k, i) => {
    addBox(keys[i], y - 3, 7, 6, "#fff", boxEdge[k]);
    addBox(keys[i] + 1, y - .4, 5, .8, medianColor[k]);
    addText(k, texts[i], y, { size: 11, color: "#333" });
  });
}

// ---------- page
["A", "B", "C", "D", "E", "F"].forEach((name, i) => {
  const pos = [[0, 7], [314, 7], [1, 186], [1, 353], [2, 531.5], [330, 531]][i];
  addText(name, pos[0], pos[1], { size: 13, weight: "bold", color: "#111" });
});

drawPca();
drawSurvival();
drawRisk();

drawHeat({
  rows: cRows, leftCols: cLeft, project: cProject, strip: cStrip, clusters: ["A", "B"],
  box: { l: 51.3, t: 196.7, r: 213.3, b: 347.3 },
  anno: { project: [-.569, -.38], cluster: [-.34, -.137] }
});
drawHeatLegend({
  nameX: 216, nameY1: 197.7, nameY2: 205, barTop: 212.3, barBottom: 280, barTicks: [219.3, 232.7, 246, 258.3, 271],
  projectX: 243, titleY: 215.7, projectTop: 221.7, swatchH: 10, clusterTitleY: 290, clusterTop: 296, clusters: ["A", "B"],
  gsvaX: 311, gsvaTitleY: 203.3, gsvaTop: 210.7, gsvaH: 12, gsvaTextY: 215.7, names: cGsva, strip: cStrip,
  sizes: { 1: { size: 11.7, color: "#555" }, 4: { size: 10.2, color: "#222" } }
});

drawHeat({
  rows: dRows, leftCols: dLeft, project: dProject, strip: dStrip, clusters: ["B", "C"],
  box: { l: 51, t: 358, r: 213, b: 508.7 },
  anno: { project: [-.78, -.52], cluster: [-.47, -.156] }
});
drawHeatLegend({
  nameX: 216.7, nameY1: 359, nameY2: 364.7, barTop: 370, barBottom: 437.3, barTicks: [379, 390.7, 402.7, 415.7, 427.7],
  projectX: 242.5, titleY: 378.3, projectTop: 383.3, swatchH: 9.85, clusterTitleY: 452, clusterTop: 457.3, clusters: ["B", "C"],
  gsvaX: 311, gsvaTitleY: 363.3, gsvaTop: 370.7, gsvaH: 12.42, gsvaTextY: 376.3, names: dGsva, strip: dStrip
});

drawBoxes({
  categories: eCategories, stats: [eStatsA, eStatsB, eStatsC], outliers: [eOutA, eOutB, eOutC],
  signif: eSignif, signifY: 1.018, canvas: { l: 0, t: 530, r: 318, b: 767 }, plot: { l: 33.4, t: 540, r: 307.8, b: 684 },
  yMin: -.05, yMax: 1.037, slot: .25, boxRatio: 1.2, titlePad: 0, labelSize: 6
});
drawBoxLegend(115, 525.7, [179, 198, 217], [188.5, 207, 227]);

drawBoxes({
  categories: fCategories, stats: [fStatsA, fStatsB, fStatsC], outliers: [fOutA, fOutB, fOutC],
  signif: fSignif, signifY: 1.023, canvas: { l: 300, t: 535, r: 644, b: 767 }, plot: { l: 364, t: 541.7, r: 642, b: 683.3 },
  yMin: -.046, yMax: 1.048, slot: .26, boxRatio: 1.05, titlePad: 26, labelSize: 6.5
});
drawBoxLegend(451.7, 525, [516.7, 535.7, 554.3], [525.7, 544, 564]);
</script>
</body>
</html>
